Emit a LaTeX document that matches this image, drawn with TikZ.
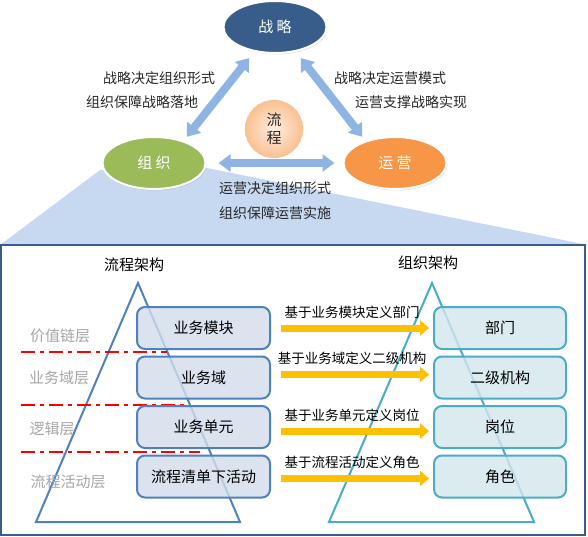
\documentclass[tikz,border=0pt]{standalone}
\usepackage{fontspec}
\setmainfont{Noto Sans CJK SC}
\usepackage{tikz}
\usetikzlibrary{arrows.meta,positioning,shapes.geometric,shadows}
\definecolor{strblue}{HTML}{385D8A}
\definecolor{orggreen}{HTML}{9BBB59}
\definecolor{opsorange}{HTML}{F79646}
\definecolor{linkblue}{HTML}{8EB4E3}
\definecolor{shadeblue}{HTML}{C6D9F1}
\definecolor{procblue}{HTML}{4F81BD}
\definecolor{procfill}{HTML}{D3DCEC}
\definecolor{orgteal}{HTML}{4BACC6}
\definecolor{orgfill}{HTML}{D2E6EC}
\definecolor{arrowgold}{HTML}{FFC000}
\definecolor{layergray}{HTML}{A6A6A6}
\definecolor{peachin}{HTML}{FDEEE2}
\definecolor{peachout}{HTML}{FAC090}

\begin{document}
\begin{tikzpicture}[x=1pt, y=-1pt, node distance=5.5pt]
  \tikzstyle{core}=[ellipse, minimum width=103pt, minimum height=52pt, inner sep=0pt, draw=white, line width=2pt, text=white, font=\fontsize{15}{18}\selectfont, drop shadow={opacity=0.25, shadow xshift=1pt, shadow yshift=-1.5pt}]
  \tikzstyle{link}=[{Triangle[length=12pt,width=17pt]}-{Triangle[length=12pt,width=17pt]}, line width=8pt, color=linkblue]
  \tikzstyle{note}=[font=\fontsize{14}{17}\selectfont, text=black!85]
  \tikzstyle{procbox}=[rounded corners=8pt, draw=procblue, line width=2pt, fill=procfill, fill opacity=0.8, text opacity=1, minimum width=133pt, minimum height=42pt, font=\fontsize{15}{18}\selectfont]
  \tikzstyle{orgbox}=[procbox, draw=orgteal, fill=orgfill, minimum width=132pt]
  \tikzstyle{layer}=[font=\fontsize{15}{18}\selectfont, text=layergray]
  \tikzstyle{cut}=[red, line width=1.5pt, dash pattern=on 14pt off 5pt on 4pt off 5pt]
  \tikzstyle{feed}=[-{Triangle[length=9pt,width=15pt]}, line width=7pt, color=arrowgold, shorten <=10pt, shorten >=4pt]
  \tikzstyle{feednote}=[font=\fontsize{13.5}{16}\selectfont, text=black, above=3pt]

  \useasboundingbox (0,0) rectangle (588,537);

  % zoom shade and frame
  \fill[shadeblue] (100,170) -- (207,168) -- (588,245) -- (0,245) -- cycle;
  \draw[strblue, line width=1.2pt, fill=white] (1,245) rectangle (585,535);

  % strategy, organisation, operation
  \node[core, fill=strblue] (strategy) at (275,27) {战 略};
  \node[core, fill=orggreen] (org) at (154,163) {组 织};
  \node[core, fill=opsorange] (ops) at (395,163) {运 营};
  \node[circle, minimum size=58pt, inner sep=0pt, inner color=peachin, outer color=peachout, draw=opsorange!60, dashed, align=center, font=\fontsize{15}{18}\selectfont, text=black!85] (process) at (274,129) {流\\程};

  \draw[link, shorten <=8pt, shorten >=5pt] (strategy.230) -- (org.37);
  \draw[link, shorten <=8pt, shorten >=5pt] (strategy.310) -- (ops.143);
  \draw[link, shorten <=12pt, shorten >=8pt] (org.east) -- (ops.west);

  \node[note] (n1) at (159,78) {战略决定组织形式};
  \node[note] (n2) at (142,102) {组织保障战略落地};
  \node[note] (n3) at (390,78) {战略决定运营模式};
  \node[note] (n4) at (411,102) {运营支撑战略实现};
  \node[note] (n5) at (275,188) {运营决定组织形式};
  \node[note] (n6) at (275,213) {组织保障运营实施};

  % two pyramids
  \node[font=\fontsize{15}{18}\selectfont] (proctitle) at (134,265) {流程架构};
  \node[font=\fontsize{15}{18}\selectfont] (orgtitle) at (428,263) {组织架构};
  \draw[procblue, line width=2pt] (138,283) -- (36,522) -- (240,522) -- cycle;
  \draw[orgteal, line width=2pt] (432,283) -- (329,522) -- (534,522) -- cycle;

  \node[layer] (l1) at (60,336) {价值链层};
  \node[layer] (l2) at (59,378) {业务域层};
  \node[layer] (l3) at (52,429) {逻辑层};
  \node[layer] (l4) at (68,482) {流程活动层};
  \draw[cut] (21,352) -- (167,352);
  \draw[cut] (21,405) -- (187,405);
  \draw[cut] (21,452) -- (200,452);

  \node[procbox] (lb1) at (203.5,328) {业务模块};
  \node[procbox, below=of lb1] (lb2) {业务域};
  \node[procbox, below=of lb2] (lb3) {业务单元};
  \node[procbox, below=of lb3] (lb4) {流程清单下活动};

  \node[orgbox, right=162pt of lb1] (rb1) {部门};
  \node[orgbox, right=162pt of lb2] (rb2) {二级机构};
  \node[orgbox, right=162pt of lb3] (rb3) {岗位};
  \node[orgbox, right=162pt of lb4] (rb4) {角色};

  \draw[feed] (lb1.east) -- node[feednote] (f1) {基于业务模块定义部门} (rb1.west);
  \draw[feed] ([yshift=3pt]lb2.east) -- node[feednote] (f2) {基于业务域定义二级机构} ([yshift=3pt]rb2.west);
  \draw[feed] ([yshift=-4pt]lb3.east) -- node[feednote] (f3) {基于业务单元定义岗位} ([yshift=-4pt]rb3.west);
  \draw[feed] ([yshift=-2pt]lb4.east) -- node[feednote] (f4) {基于流程活动定义角色} ([yshift=-2pt]rb4.west);
\end{tikzpicture}
\end{document}
